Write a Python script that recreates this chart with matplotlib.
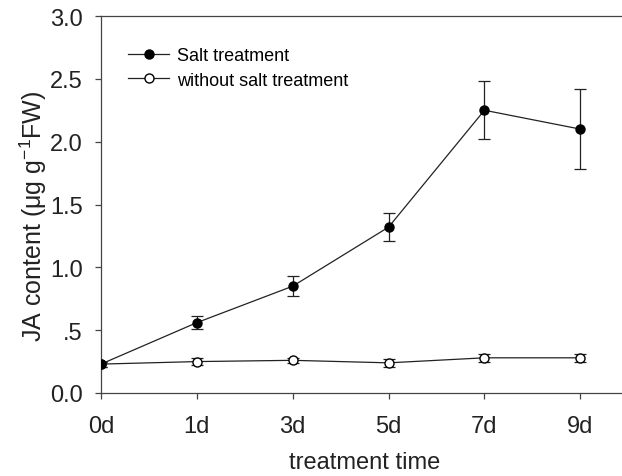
import numpy as np
import matplotlib.pyplot as plt
from matplotlib.lines import Line2D

plt.rcParams['font.family'] = ['Liberation Sans', 'DejaVu Sans']
plt.rcParams['mathtext.fontset'] = 'custom'
plt.rcParams['mathtext.rm'] = 'Liberation Sans'

# Valeurs
jours = ['0d', '1d', '3d', '5d', '7d', '9d']
sel = [0.23, 0.56, 0.85, 1.32, 2.25, 2.10]
sel_err = [0.02, 0.05, 0.08, 0.11, 0.23, 0.32]
temoin = [0.23, 0.25, 0.26, 0.24, 0.28, 0.28]
temoin_err = [0.02, 0.03, 0.02, 0.03, 0.03, 0.03]

x = np.arange(len(jours))

fig = plt.figure(figsize=(6.22, 4.77), dpi=100)
ax = fig.add_axes([101/622, 1 - 394/477, 1 - 101/622 + 0.01, (394 - 17)/477])

ax.errorbar(x, sel, yerr=sel_err, fmt='o-', color='#222222', mfc='black', mec='black',
            ms=6.5, lw=0.9, elinewidth=0.9, capsize=4.5, capthick=0.9, zorder=3)
ax.errorbar(x, temoin, yerr=temoin_err, fmt='o-', color='#222222', mfc='white', mec='black',
            ms=6.5, lw=0.9, elinewidth=0.9, capsize=4.5, capthick=0.9, zorder=2)

ax.set_xlim(0, 5.5)
ax.set_ylim(0, 3.0)
ax.set_xticks(x)
ax.set_xticklabels(jours)
ax.set_yticks([0, 0.5, 1.0, 1.5, 2.0, 2.5, 3.0])
ax.set_yticklabels(['0.0', '.5', '1.0', '1.5', '2.0', '2.5', '3.0'])
ax.tick_params(labelsize=17, direction='out', length=4, width=0.9, colors='#444444', labelcolor='#222222')
ax.tick_params(axis='y', pad=9)
ax.tick_params(axis='x', pad=12)
ax.spines['right'].set_visible(False)
for s in ['left', 'top', 'bottom']:
    ax.spines[s].set_linewidth(0.9)
    ax.spines[s].set_color('#444444')

ax.set_xlabel('treatment time', fontsize=17, labelpad=10, color='#222222')
ax.set_ylabel(r'JA content ($\mathregular{\mu}$g g$^{\mathregular{-1}}$FW)', fontsize=18,
              labelpad=1, color='#222222')
ax.yaxis.set_label_coords(-0.099, 0.47)

poignees = [Line2D([], [], color='#222222', lw=0.9, marker='o', ms=6.5, mfc='black', mec='black'),
            Line2D([], [], color='#222222', lw=0.9, marker='o', ms=6.5, mfc='white', mec='black')]
ax.legend(poignees, ['Salt treatment', 'without salt treatment'], loc='upper left',
          bbox_to_anchor=(27/529, 1 - 31/377), frameon=False, fontsize=13,
          handlelength=2.3, handletextpad=0.4, labelspacing=0.42, borderaxespad=0, borderpad=0)

fig.savefig('out.png', dpi=100)
